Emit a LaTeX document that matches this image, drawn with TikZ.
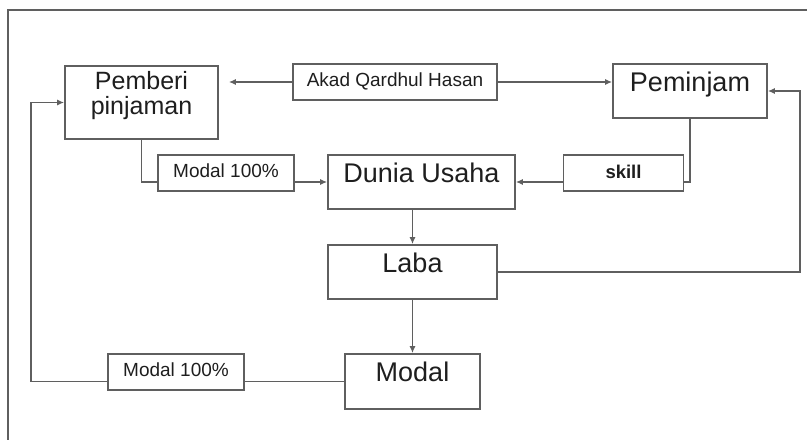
\documentclass[tikz,border=0pt]{standalone}
\usepackage{fontspec}
\setmainfont{Liberation Sans}
\usetikzlibrary{arrows.meta}
\definecolor{garis}{RGB}{95,95,95}
\definecolor{tulisan}{RGB}{30,30,30}
\tikzset{
  box/.style={draw=garis, line width=1.6pt, text=tulisan, inner sep=0pt},
  besar/.style={box, font=\fontsize{27}{27}\selectfont, text height=20pt, text depth=20pt},
  kecil/.style={box, font=\fontsize{19}{19}\selectfont, text height=14pt, text depth=5pt},
  panah/.style={draw=garis, line width=1.6pt, -{Latex[length=7pt,width=6pt]}},
  garisan/.style={draw=garis, line width=1.6pt}
}
\begin{document}
\begin{tikzpicture}[x=1pt, y=-1pt]
    \useasboundingbox (0,0) rectangle (807,440);
    \draw[garisan] (807,10) -| (8,440);
    \node[box, font=\fontsize{25}{25}\selectfont, align=center, text depth=19pt, minimum width=153pt, minimum height=73pt] (Pemberi) at (141.5,102.5) {Pemberi\\pinjaman};
    \node[kecil, minimum width=204pt, minimum height=36pt] (Akad) at (395,82) {Akad Qardhul Hasan};
    \node[besar, minimum width=154pt, minimum height=54pt] (Peminjam) at (690,91) {Peminjam};
    \node[kecil, minimum width=136pt, minimum height=36pt] (ModalA) at (226,173) {Modal 100\%};
    \node[besar, minimum width=187pt, minimum height=54pt] (Dunia) at (421.5,182) {Dunia Usaha};
    \node[kecil, font=\fontsize{18.5}{19}\selectfont\bfseries, minimum width=120pt, minimum height=36pt, text depth=3pt] (Skill) at (623.5,173) {skill};
    \node[besar, minimum width=169pt, minimum height=54pt] (Laba) at (412.5,272) {Laba};
    \node[besar, minimum width=135pt, minimum height=55pt] (Modal) at (412.5,381.5) {Modal};
    \node[kecil, minimum width=136pt, minimum height=36pt] (ModalB) at (176,372) {Modal 100\%};
    \coordinate (BelokKanan) at (800,272);
    \coordinate (BelokKiri) at (31,381.5);
    % akad ke kedua pihak
    \draw[panah, shorten >=10pt] (Akad.west) -- (Akad.west -| Pemberi.east);
    \draw[panah] (Akad.east) -- (Akad.east -| Peminjam.west);
    % modal dan skill ke dunia usaha
    \draw[garisan] (Pemberi.south) |- (ModalA.west |- Dunia.west);
    \draw[panah] (ModalA.east |- Dunia.west) -- (Dunia.west);
    \draw[garisan] (Peminjam.south) |- (Skill.east |- Dunia.east);
    \draw[panah] (Skill.west |- Dunia.east) -- (Dunia.east);
    \draw[panah] (Dunia.south -| Laba.north) -- (Laba.north);
    \draw[panah] (Laba.south) -- (Modal.north);
    \draw[panah] (Laba.east) -- (BelokKanan) |- (Peminjam.east);
    % modal kembali
    \draw[garisan] (Modal.west) -- (Modal.west -| ModalB.east);
    \draw[panah] (Modal.west -| ModalB.west) -- (BelokKiri) |- (Pemberi.west);
\end{tikzpicture}
\end{document}
